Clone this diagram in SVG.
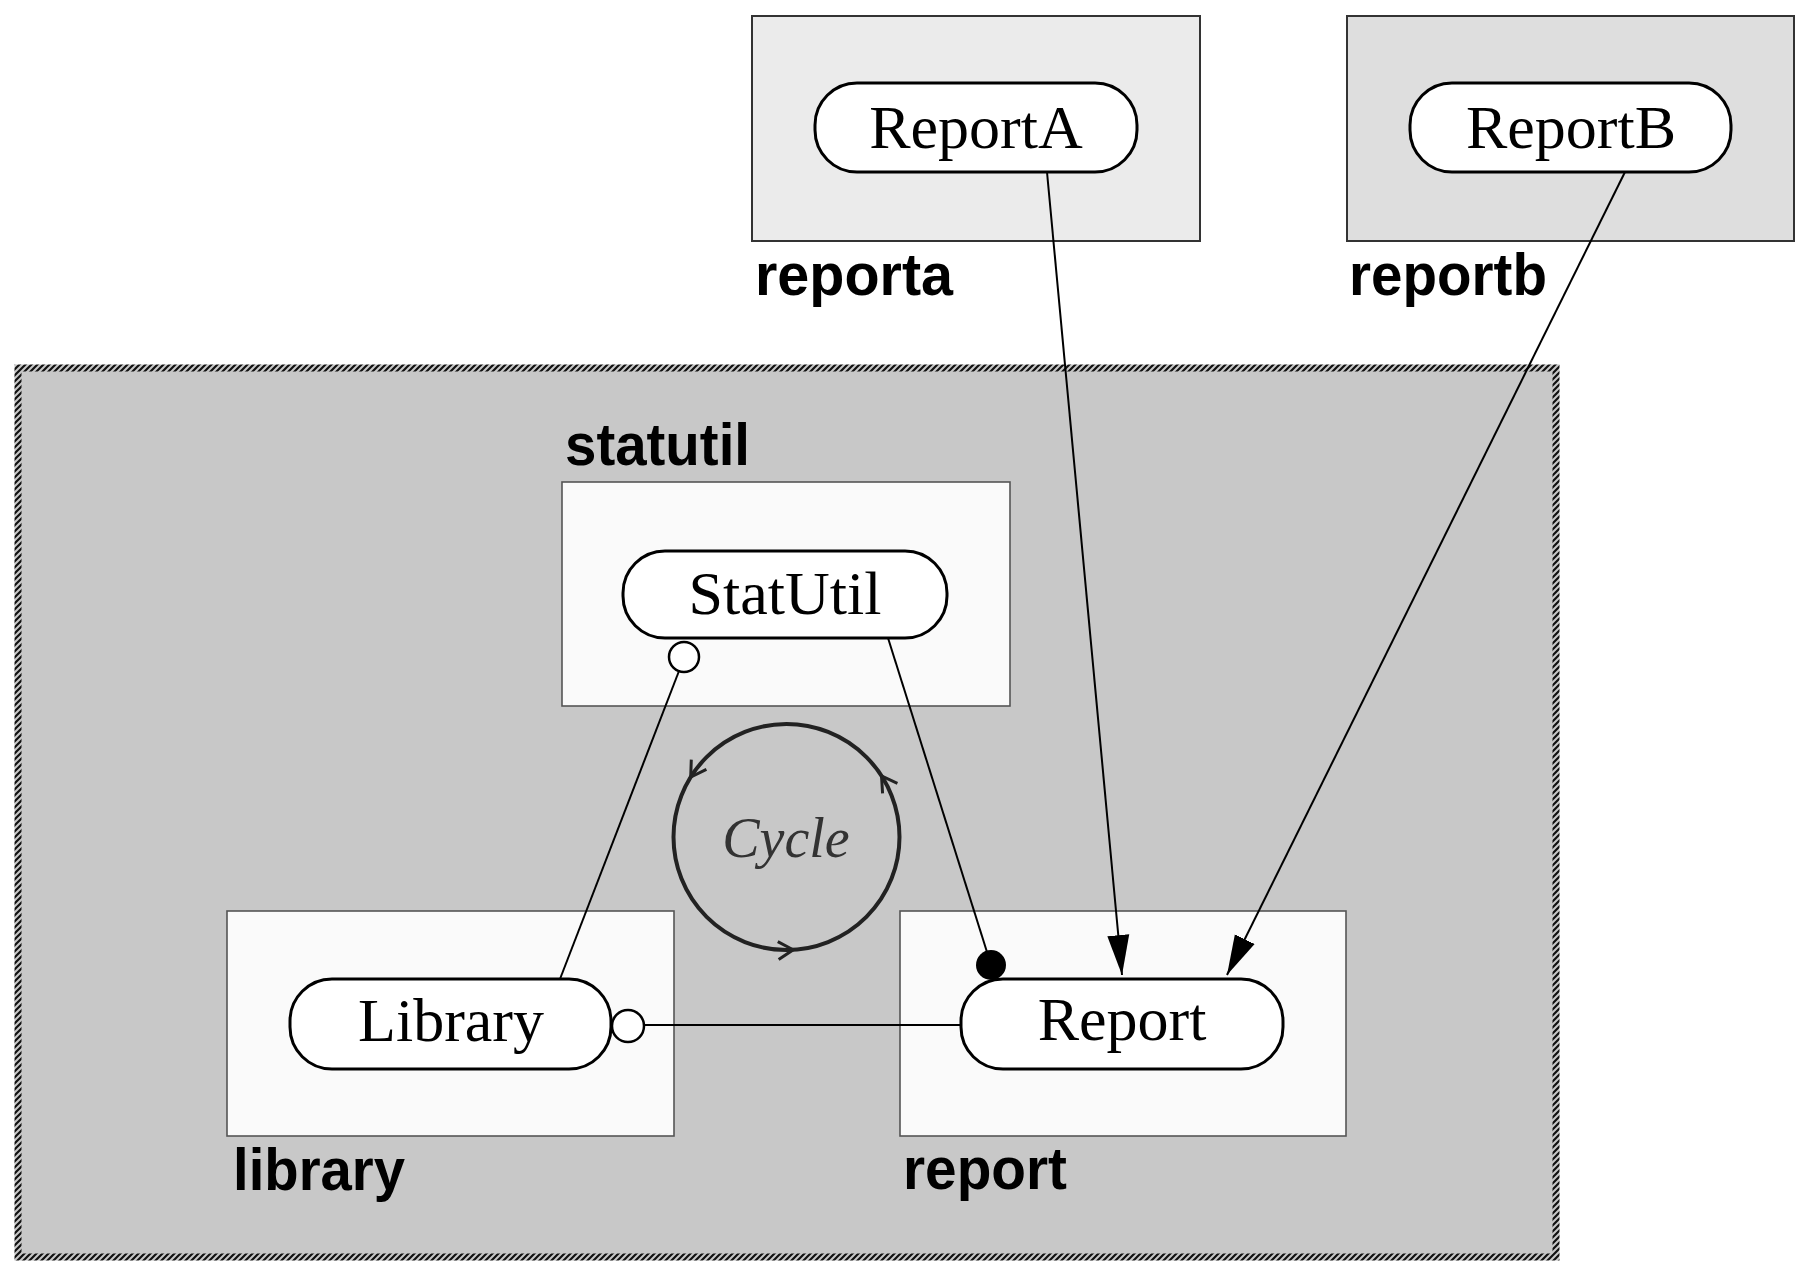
<svg xmlns="http://www.w3.org/2000/svg" width="1800" height="1263" viewBox="0 0 1800 1263">
<style>
.pkg{stroke:#333;stroke-width:2}
.inner{fill:#fafafa;stroke:#555;stroke-width:1.6}
.pill{fill:#fff;stroke:#000;stroke-width:3}
.cls{font-family:"Liberation Serif",serif;font-size:62px;fill:#000;text-anchor:middle}
.lbl{font-family:"Liberation Sans",Arial,sans-serif;font-weight:bold;font-size:60px;fill:#000}
.edge{fill:none;stroke:#000;stroke-width:2}
</style>
<defs>
<pattern id="hatch" patternUnits="userSpaceOnUse" width="6" height="6">
<rect width="6" height="6" fill="#c8c8c8"/>
<path d="M-1,7 L7,-1 M-4,4 L4,-4 M2,10 L10,2" stroke="#111" stroke-width="2.2"/>
</pattern>
<marker id="arrow" markerUnits="userSpaceOnUse" markerWidth="42" markerHeight="24" refX="40" refY="12" orient="auto">
<path d="M0,1 L40,12 L0,23 Z" fill="#000"/>
</marker>
<marker id="chev" markerUnits="userSpaceOnUse" markerWidth="22" markerHeight="22" refX="18" refY="11" orient="auto">
<path d="M3,2 L18,11 L3,20" fill="none" stroke="#222" stroke-width="3"/>
</marker>
</defs>
<rect width="1800" height="1263" fill="#fff"/>

<g id="pkg-outer">
<rect x="18" y="368" width="1538" height="889" fill="#c8c8c8" stroke="url(#hatch)" stroke-width="7"/>
</g>

<g id="pkg-reporta">
<rect class="pkg" x="752" y="16" width="448" height="225" fill="#ebebeb"/>
<text class="lbl" x="755" y="295" textLength="198" lengthAdjust="spacingAndGlyphs">reporta</text>
</g>
<g id="pkg-reportb">
<rect class="pkg" x="1347" y="16" width="447" height="225" fill="#dedede"/>
<text class="lbl" x="1349" y="295" textLength="198" lengthAdjust="spacingAndGlyphs">reportb</text>
</g>
<g id="pkg-statutil">
<rect class="inner" x="562" y="482" width="448" height="224"/>
<text class="lbl" x="565" y="465" textLength="185" lengthAdjust="spacingAndGlyphs">statutil</text>
</g>
<g id="pkg-library">
<rect class="inner" x="227" y="911" width="447" height="225"/>
<text class="lbl" x="233" y="1190" textLength="172" lengthAdjust="spacingAndGlyphs">library</text>
</g>
<g id="pkg-report">
<rect class="inner" x="900" y="911" width="446" height="225"/>
<text class="lbl" x="903" y="1189" textLength="164" lengthAdjust="spacingAndGlyphs">report</text>
</g>

<g id="cycle">
<circle cx="786.5" cy="837" r="113" fill="none" stroke="#222" stroke-width="4"/>
<path d="M691.8,775.4 L690.7,777.1" fill="none" stroke="none" marker-end="url(#chev)"/>
<path d="M882.6,777.6 L881.5,776" fill="none" stroke="none" marker-end="url(#chev)"/>
<path d="M791.2,949.9 L793.2,949.8" fill="none" stroke="none" marker-end="url(#chev)"/>
<text x="786" y="857" font-family="Liberation Serif,serif" font-style="italic" font-size="56" fill="#333" text-anchor="middle">Cycle</text>
</g>

<g id="connectors">
<line class="edge" x1="679" y1="671" x2="560" y2="979"/>
<line class="edge" x1="888" y1="638" x2="987" y2="952"/>
<line class="edge" x1="644" y1="1025" x2="961" y2="1025"/>
<line class="edge" x1="1047" y1="172" x2="1122" y2="975" marker-end="url(#arrow)"/>
<line class="edge" x1="1625" y1="172" x2="1227" y2="975" marker-end="url(#arrow)"/>
<circle cx="684" cy="657" r="15" fill="#fff" stroke="#000" stroke-width="2.5"/>
<circle cx="628" cy="1026" r="16" fill="#fff" stroke="#000" stroke-width="2.5"/>
<circle cx="991" cy="965" r="15" fill="#000"/>
</g>

<g id="ReportA">
<rect class="pill" x="815" y="83" width="322" height="89" rx="42" ry="42"/>
<text class="cls" x="976" y="148">ReportA</text>
</g>
<g id="ReportB">
<rect class="pill" x="1410" y="83" width="321" height="89" rx="42" ry="42"/>
<text class="cls" x="1571" y="148">ReportB</text>
</g>
<g id="StatUtil">
<rect class="pill" x="623" y="551" width="324" height="87" rx="42" ry="42"/>
<text class="cls" x="785" y="614">StatUtil</text>
</g>
<g id="Library">
<rect class="pill" x="290" y="979" width="321" height="90" rx="42" ry="42"/>
<text class="cls" x="451" y="1041">Library</text>
</g>
<g id="Report">
<rect class="pill" x="961" y="979" width="322" height="90" rx="42" ry="42"/>
<text class="cls" x="1122" y="1040">Report</text>
</g>
</svg>
